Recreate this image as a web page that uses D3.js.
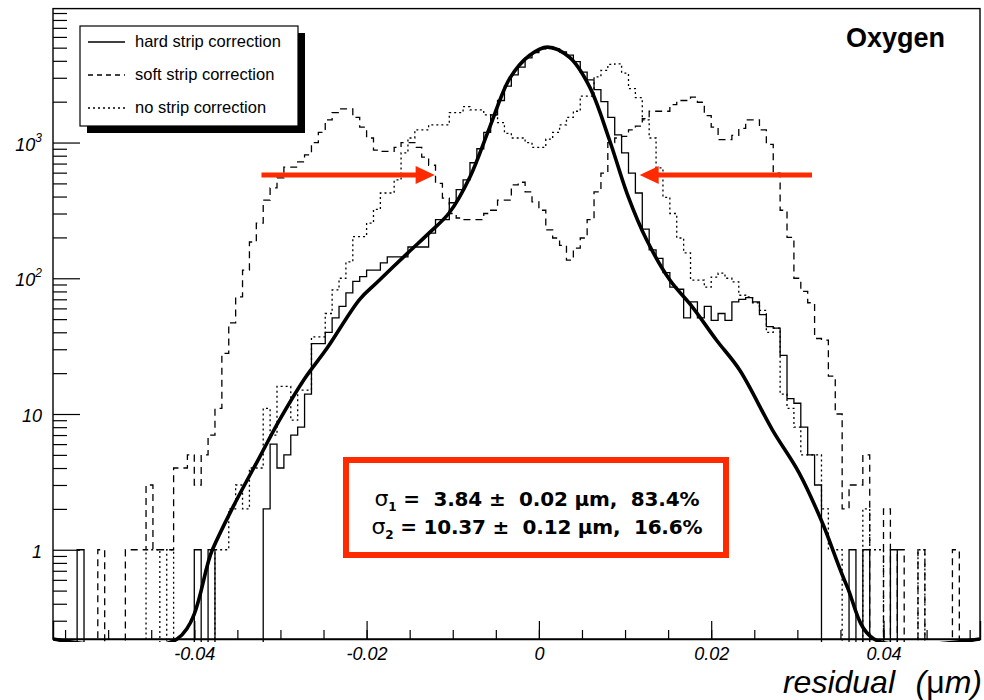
<!DOCTYPE html>
<html>
<head>
<meta charset="utf-8">
<script src="https://cdn.jsdelivr.net/npm/d3@7"></script>
<style>
body { margin: 0; background: #fff; }
text { font-family: "Liberation Sans", Arial, Helvetica, sans-serif; }
</style>
</head>
<body>
<div id="chart"></div>
<script>
//histogram bins: width 0.0008, first bin starts at -0.056 (134 bins)
var binStart = -0.056,
    binWidth = 0.0008;

var hardStrip = [
  0, 0, 0, 1, 0, 0, 0, 0, 0, 0,
  0, 0, 0, 0, 0, 0, 0, 0, 0, 0,
  1, 0, 1, 0, 0, 0, 0, 0, 0, 0,
  2, 6, 4, 5, 7, 8, 14, 33, 33, 40,
  51, 62, 78, 95, 103, 115, 115, 130, 144, 144,
  144, 170, 170, 170, 215, 270, 270, 360, 450, 530,
  710, 900, 1190, 1600, 2040, 2600, 3150, 3600, 4200, 4600,
  4900, 5050, 4900, 4650, 4400, 3950, 3300, 2900, 2450, 2000,
  1530, 1140, 840, 595, 425, 230, 162, 140, 110, 86,
  83, 51, 67, 51, 62, 49, 55, 49, 67, 70,
  72, 67, 54, 44, 43, 27, 13, 12, 8, 5,
  3, 0, 0, 0, 0, 1, 0, 1, 0, 0,
  0, 1, 0, 0, 0, 0, 0, 0, 0, 0,
  0, 0, 0, 0
];

var softStrip = [
  0, 0, 0, 0, 0, 0, 1, 0, 0, 0,
  1, 1, 1, 3, 1, 1, 1, 4, 4, 5,
  3, 5, 7, 11, 28, 47, 73, 115, 185, 255,
  377, 463, 550, 660, 660, 720, 810, 1000, 1190, 1470,
  1660, 1770, 1770, 1530, 1300, 1080, 880, 860, 860, 920,
  1000, 1000, 920, 780, 680, 500, 390, 300, 278, 270,
  270, 270, 300, 317, 377, 377, 487, 510, 433, 365,
  317, 227, 198, 175, 136, 167, 198, 270, 433, 595,
  1000, 1080, 1110, 1240, 1320, 1500, 1700, 1700, 1700, 1900,
  2040, 2040, 2160, 1980, 1580, 1300, 1050, 1050, 1130, 1270,
  1470, 1470, 1240, 970, 595, 317, 200, 100, 80, 66,
  36, 35, 19, 10, 2, 3, 3, 5, 0, 0,
  2, 0, 1, 0, 0, 1, 0, 0, 0, 0,
  1, 0, 0, 0
];

var noStrip = [
  0, 0, 0, 0, 0, 0, 0, 0, 0, 0,
  0, 0, 0, 1, 1, 0, 1, 0, 0, 0,
  0, 0, 0, 1, 1, 2, 3, 2, 4, 4,
  11, 7, 16, 16, 9, 15, 15, 37, 37, 55,
  82, 100, 132, 203, 203, 255, 322, 425, 425, 530,
  840, 1080, 1240, 1240, 1350, 1350, 1350, 1660, 1660, 1840,
  1740, 1740, 1600, 1600, 1400, 1170, 1080, 1080, 1000, 920,
  920, 1060, 1190, 1350, 1530, 1700, 2200, 2200, 3050, 3400,
  3760, 3800, 3250, 2500, 2140, 1470, 1080, 650, 395, 300,
  198, 154, 97, 97, 86, 102, 109, 100, 94, 75,
  73, 66, 58, 40, 43, 14, 11, 8, 5, 5,
  5, 2, 1, 1, 0, 0, 0, 2, 1, 1,
  0, 0, 0, 0, 0, 1, 0, 0, 0, 0,
  0, 0, 0, 0
];

//double gaussian fit (below 0.22 = off the frame)
var fitX = [-0.0564, -0.0420, -0.0379, -0.0355, -0.0324, -0.0301, -0.0272, -0.0246, -0.0208, -0.0188,
  -0.0153, -0.0127, -0.0104, -0.0080, -0.0057, -0.0034, -0.0011, 0.0010, 0.0036, 0.0059,
  0.0082, 0.0103, 0.0125, 0.0152, 0.0178, 0.0206, 0.0233, 0.0271, 0.0302, 0.0329,
  0.0357, 0.0389, 0.0512];
var fitY = [0.1, 0.22, 1.0, 2.07, 4.84, 9.05, 18.2, 30.5, 70, 93,
  152, 217, 304, 558, 1300, 2960, 4380, 5050, 4220, 2560,
  1040, 410, 192, 97, 61.6, 35.1, 21.1, 7.65, 3.69, 1.58,
  0.55, 0.22, 0.1];

var xTicks = [-0.04, -0.02, 0, 0.02, 0.04];
var yTicks = [1, 10, 100, 1000];
var yLabels = [["1", ""], ["10", ""], ["10", "2"], ["10", "3"]];
var legendLabels = ["hard strip correction", "soft strip correction", "no strip correction"];
var sigmaRows = [
  {sub: "1", text: " =  3.84 \u00b1  0.02 \u03bcm,  83.4%"},
  {sub: "2", text: " = 10.37 \u00b1  0.12 \u03bcm,  16.6%"}
];
//arrows marking the core width, [from, to] in x and level in y
var arrows = [
  {x0: -0.0322, x1: -0.0121, v: 577},
  {x0: 0.0317, x1: 0.0117, v: 577}
];

var RED = "#ff2a00";
var styles = ["none", "7,5", "2,3"];

var x = d3.scaleLinear().domain([-0.0564, 0.0512]).range([53, 980]),
    y = d3.scaleLog().domain([0.22, 9700]).range([639, 8.6]).clamp(true);

var svg = d3.select("#chart").append("svg")
    .attr("width", 984)
    .attr("height", 700);

svg.append("defs").append("clipPath").attr("id", "plotclip")
  .append("rect")
    .attr("x", 53).attr("y", 8)
    .attr("width", 927).attr("height", 634);

var plot = svg.append("g").attr("clip-path", "url(#plotclip)");

//step outline like ROOT draws a TH1
function histPath(counts) {
  var pts = counts.map(function(c, i){ return [binStart + i * binWidth, c]; });
  pts.push([binStart + counts.length * binWidth, counts[counts.length - 1]]);
  return d3.line()
    .x(function(d){ return x(d[0]); })
    .y(function(d){ return d[1] > 0 ? y(d[1]) : y.range()[0] + 6; })
    .curve(d3.curveStepAfter)(pts);
}

[noStrip, softStrip, hardStrip].forEach(function(h, i) {
  plot.append("path")
    .attr("d", histPath(h))
    .attr("fill", "none")
    .attr("stroke", "#000")
    .attr("stroke-width", 1.3)
    .attr("stroke-dasharray", styles[2 - i]);
});

plot.append("path")
  .datum(d3.zip(fitX, fitY))
  .attr("fill", "none")
  .attr("stroke", "#000")
  .attr("stroke-width", 3.6)
  .attr("stroke-linejoin", "round")
  .attr("d", d3.line()
    .x(function(d){ return x(d[0]); })
    .y(function(d){ return y(d[1]); })
    .curve(d3.curveCatmullRom.alpha(0.5)));

//frame
svg.append("rect")
  .attr("x", 53).attr("y", 8.6)
  .attr("width", 927).attr("height", 630.4)
  .attr("fill", "none")
  .attr("stroke", "#000")
  .attr("stroke-width", 1.4);

//x axis, ticks point inwards
var minorX = d3.range(-11, 11).map(function(i){ return i * 0.005; });
svg.append("g")
  .attr("transform", "translate(0,639)")
  .call(d3.axisBottom(x).tickValues(minorX).tickSize(-9).tickFormat(""))
  .call(function(g){ g.select(".domain").remove(); });

var xAxis = svg.append("g")
  .attr("transform", "translate(0,639)")
  .call(d3.axisBottom(x).tickValues(xTicks).tickSize(-18).tickPadding(8)
    .tickFormat(function(d){ return String(d); }));
xAxis.select(".domain").attr("stroke-width", 1.4);
xAxis.selectAll("text")
  .attr("font-size", 18)
  .attr("font-style", "italic")
  .attr("fill", "#000");
svg.selectAll(".tick line").attr("stroke-width", 1.2);

//y axis (log), minor ticks 2..9 of each decade
var minorY = [];
[0.1, 1, 10, 100, 1000].forEach(function(dec) {
  [2, 3, 4, 5, 6, 7, 8, 9].forEach(function(m) {
    var v = dec * m;
    if (v > 0.22 && v < 9700) minorY.push(v);
  });
});
svg.append("g")
  .attr("transform", "translate(53,0)")
  .call(d3.axisLeft(y).tickValues(minorY).tickSize(-14).tickFormat(""))
  .call(function(g){ g.select(".domain").remove(); })
  .selectAll("line").attr("stroke-width", 1.2);
svg.append("g")
  .attr("transform", "translate(53,0)")
  .call(d3.axisLeft(y).tickValues(yTicks).tickSize(-27).tickFormat(""))
  .call(function(g){ g.select(".domain").remove(); })
  .selectAll("line").attr("stroke-width", 1.2);

var yLab = svg.append("g").selectAll("text")
  .data(yTicks)
  .enter().append("text")
    .attr("x", 42)
    .attr("y", function(d){ return y(d) + 8; })
    .attr("text-anchor", "end")
    .attr("font-size", 18)
    .attr("font-style", "italic");
yLab.append("tspan").text(function(d, i){ return yLabels[i][0]; });
yLab.append("tspan")
  .attr("font-size", 12)
  .attr("dy", -9)
  .text(function(d, i){ return yLabels[i][1]; });

//axis title
svg.append("text")
  .attr("x", 895).attr("y", 693)
  .attr("text-anchor", "end")
  .attr("font-size", 32)
  .attr("font-style", "italic")
  .text("residual");
var unit = svg.append("text")
  .attr("x", 982).attr("y", 693)
  .attr("text-anchor", "end")
  .attr("font-size", 32)
  .attr("font-style", "italic");
unit.append("tspan").text("(");
unit.append("tspan").attr("font-style", "normal").text("\u03bc");
unit.append("tspan").text("m)");

svg.append("text")
  .attr("x", 945).attr("y", 47)
  .attr("text-anchor", "end")
  .attr("font-size", 27)
  .attr("font-weight", "bold")
  .text("Oxygen");

//legend with its shadow
var leg = svg.append("g");
leg.append("rect")
  .attr("x", 87).attr("y", 33)
  .attr("width", 218).attr("height", 100)
  .attr("fill", "#000");
leg.append("rect")
  .attr("x", 80).attr("y", 26)
  .attr("width", 218).attr("height", 100)
  .attr("fill", "#fff")
  .attr("stroke", "#000")
  .attr("stroke-width", 1.2);
legendLabels.forEach(function(l, i) {
  var cy = 42 + i * 33;
  leg.append("line")
    .attr("x1", 88).attr("x2", 125)
    .attr("y1", cy).attr("y2", cy)
    .attr("stroke", "#000")
    .attr("stroke-width", 1.3)
    .attr("stroke-dasharray", i == 1 ? "5,4" : styles[i]);
  leg.append("text")
    .attr("x", 135).attr("y", cy + 5)
    .attr("font-size", 16.5)
    .text(l);
});

//red arrows
arrows.forEach(function(a) {
  var x0 = x(a.x0), x1 = x(a.x1), yy = y(a.v),
      dir = x1 > x0 ? 1 : -1;
  svg.append("line")
    .attr("x1", x0).attr("x2", x1 - dir * 12)
    .attr("y1", yy).attr("y2", yy)
    .attr("stroke", RED)
    .attr("stroke-width", 5);
  svg.append("polygon")
    .attr("points", [[x1, yy], [x1 - dir * 19, yy - 9], [x1 - dir * 19, yy + 9]].join(" "))
    .attr("fill", RED);
});

//fit result box
svg.append("rect")
  .attr("x", 346).attr("y", 460)
  .attr("width", 380).attr("height", 95)
  .attr("fill", "#fff")
  .attr("stroke", RED)
  .attr("stroke-width", 6);

sigmaRows.forEach(function(r, i) {
  var t = svg.append("text")
    .attr("x", 537).attr("y", 506 + i * 28)
    .attr("text-anchor", "middle")
    .style("font-family", "'DejaVu Sans', sans-serif")
    .attr("font-size", 20)
    .attr("font-weight", "bold")
    .attr("textLength", 325 + i * 6)
    .attr("lengthAdjust", "spacing")
    .style("white-space", "pre");
  t.append("tspan").attr("font-weight", "normal").attr("font-size", 22).text("\u03c3");
  t.append("tspan").attr("font-size", 12).attr("dy", 5).text(r.sub);
  t.append("tspan").attr("dy", -5).text(r.text);
});
</script>
</body>
</html>
